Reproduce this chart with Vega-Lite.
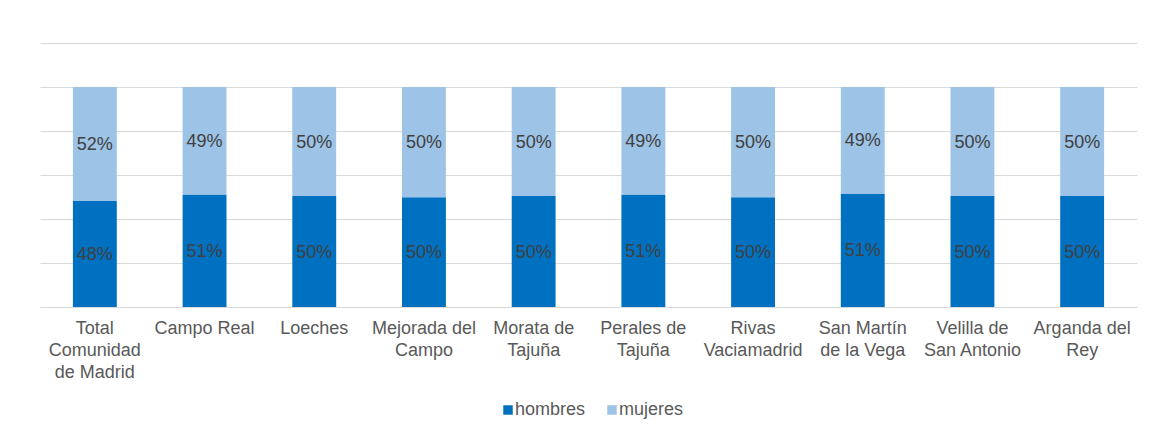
{
  "$schema": "https://vega.github.io/schema/vega-lite/v6.json",
  "width": 1097,
  "height": 264,
  "padding": {"left": 40, "top": 43, "right": 16, "bottom": 0},
  "autosize": {"type": "pad"},
  "background": "white",
  "config": {"view": {"stroke": null}, "font": "Liberation Sans"},
  "data": {
    "values": [
      {"municipio": "Total Comunidad de Madrid", "sexo": "hombres", "pct": 0.482},
      {"municipio": "Total Comunidad de Madrid", "sexo": "mujeres", "pct": 0.518},
      {"municipio": "Campo Real", "sexo": "hombres", "pct": 0.511},
      {"municipio": "Campo Real", "sexo": "mujeres", "pct": 0.489},
      {"municipio": "Loeches", "sexo": "hombres", "pct": 0.504},
      {"municipio": "Loeches", "sexo": "mujeres", "pct": 0.496},
      {"municipio": "Mejorada del Campo", "sexo": "hombres", "pct": 0.499},
      {"municipio": "Mejorada del Campo", "sexo": "mujeres", "pct": 0.501},
      {"municipio": "Morata de Tajuña", "sexo": "hombres", "pct": 0.504},
      {"municipio": "Morata de Tajuña", "sexo": "mujeres", "pct": 0.496},
      {"municipio": "Perales de Tajuña", "sexo": "hombres", "pct": 0.511},
      {"municipio": "Perales de Tajuña", "sexo": "mujeres", "pct": 0.489},
      {"municipio": "Rivas Vaciamadrid", "sexo": "hombres", "pct": 0.499},
      {"municipio": "Rivas Vaciamadrid", "sexo": "mujeres", "pct": 0.501},
      {"municipio": "San Martín de la Vega", "sexo": "hombres", "pct": 0.514},
      {"municipio": "San Martín de la Vega", "sexo": "mujeres", "pct": 0.486},
      {"municipio": "Velilla de San Antonio", "sexo": "hombres", "pct": 0.504},
      {"municipio": "Velilla de San Antonio", "sexo": "mujeres", "pct": 0.496},
      {"municipio": "Arganda del Rey", "sexo": "hombres", "pct": 0.504},
      {"municipio": "Arganda del Rey", "sexo": "mujeres", "pct": 0.496}
    ]
  },
  "encoding": {
    "x": {
      "field": "municipio",
      "type": "nominal",
      "sort": ["Total Comunidad de Madrid", "Campo Real", "Loeches", "Mejorada del Campo", "Morata de Tajuña", "Perales de Tajuña", "Rivas Vaciamadrid", "San Martín de la Vega", "Velilla de San Antonio", "Arganda del Rey"],
      "scale": {"paddingInner": 0.6, "paddingOuter": 0.3},
      "axis": {
        "title": null,
        "labelAngle": 0,
        "labelFontSize": 18,
        "labelColor": "#595959",
        "labelPadding": 12,
        "labelLineHeight": 22,
        "labelBaseline": "top",
        "ticks": false,
        "domain": true,
        "domainColor": "#D9D9D9",
        "labelExpr": "datum.value == 'Total Comunidad de Madrid' ? ['Total', 'Comunidad', 'de Madrid'] : datum.value == 'Mejorada del Campo' ? ['Mejorada del', 'Campo'] : datum.value == 'Morata de Tajuña' ? ['Morata de', 'Tajuña'] : datum.value == 'Perales de Tajuña' ? ['Perales de', 'Tajuña'] : datum.value == 'Rivas Vaciamadrid' ? ['Rivas', 'Vaciamadrid'] : datum.value == 'San Martín de la Vega' ? ['San Martín', 'de la Vega'] : datum.value == 'Velilla de San Antonio' ? ['Velilla de', 'San Antonio'] : datum.value == 'Arganda del Rey' ? ['Arganda del', 'Rey'] : datum.value"
      }
    }
  },
  "layer": [
    {
      "mark": {"type": "bar"},
      "encoding": {
        "y": {
          "field": "pct",
          "type": "quantitative",
          "stack": "zero",
          "scale": {"domain": [0, 1.2], "nice": false},
          "axis": {
            "title": null,
            "labels": false,
            "ticks": false,
            "domain": false,
            "grid": true,
            "gridColor": "#D9D9D9",
            "values": [0, 0.2, 0.4, 0.6, 0.8, 1.0, 1.2]
          }
        },
        "order": {"field": "sexo", "type": "nominal", "sort": "ascending"},
        "color": {
          "field": "sexo",
          "type": "nominal",
          "scale": {"domain": ["hombres", "mujeres"], "range": ["#0070C0", "#9DC3E6"]},
          "legend": {
            "title": null,
            "orient": "none",
            "legendX": 459,
            "legendY": 358,
            "direction": "horizontal",
            "symbolType": "square",
            "symbolSize": 90,
            "symbolStrokeWidth": 0,
            "labelFontSize": 18,
            "labelColor": "#595959",
            "labelOffset": -2,
            "columnPadding": 17
          }
        }
      }
    },
    {
      "transform": [
        {"stack": "pct", "groupby": ["municipio"], "as": ["y0", "y1"], "sort": [{"field": "sexo"}]},
        {"calculate": "(datum.y0 + datum.y1) / 2", "as": "mid"}
      ],
      "mark": {"type": "text", "fontSize": 18, "color": "#404040", "baseline": "middle", "dy": 1},
      "encoding": {
        "y": {"field": "mid", "type": "quantitative"},
        "text": {"field": "pct", "type": "quantitative", "format": ".0%"}
      }
    }
  ]
}
